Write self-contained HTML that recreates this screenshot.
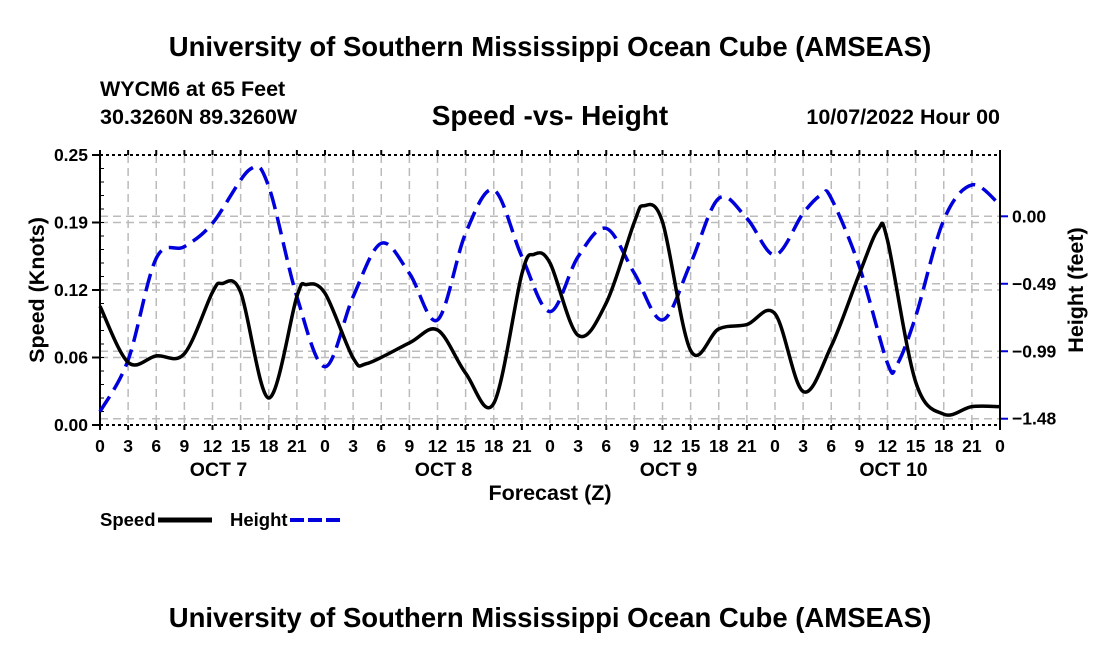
<!DOCTYPE html>
<html><head><meta charset="utf-8"><style>
body{margin:0;background:#fff;}
svg{display:block;font-family:"Liberation Sans",Arial,sans-serif;font-weight:bold;}
</style></head><body>
<svg id="chart" width="1100" height="650">
<text x="550" y="56" text-anchor="middle" font-size="27.5">University of Southern Mississippi Ocean Cube (AMSEAS)</text>
<text x="100" y="96" font-size="21.5">WYCM6 at 65 Feet</text>
<text x="100" y="124" font-size="21.5">30.3260N  89.3260W</text>
<text x="550" y="125" text-anchor="middle" font-size="28">Speed -vs- Height</text>
<text x="1000" y="124" text-anchor="end" font-size="21.5">10/07/2022 Hour 00</text>
<g id="grid"></g><g id="axes"></g><g id="series"></g>
<text x="550" y="500" text-anchor="middle" font-size="21.5">Forecast (Z)</text>
<text transform="translate(44,290) rotate(-90)" text-anchor="middle" font-size="21.5">Speed (Knots)</text>
<text transform="translate(1083,290) rotate(-90)" text-anchor="middle" font-size="21.5">Height (feet)</text>
<g>
<text x="100" y="526" font-size="18.5">Speed</text>
<line x1="158" y1="520" x2="212" y2="520" stroke="#000" stroke-width="5"/>
<text x="230" y="526" font-size="18.5">Height</text>
<line x1="290" y1="520" x2="342" y2="520" stroke="#0000dd" stroke-width="4" stroke-dasharray="14,4"/>
</g>
<text x="550" y="627" text-anchor="middle" font-size="27.5">University of Southern Mississippi Ocean Cube (AMSEAS)</text>
</svg>
<script>
const speedHours=[0,3,6,9,12,13,15,18,21,22,24,27,28.5,33,36,39,42,45,46.3,48,51,54,57,58,60,63,66,69,72,75,78,81,83,84,87,90,93,96];
const speedValues=[0.110,0.058,0.064,0.066,0.123,0.131,0.123,0.025,0.119,0.130,0.122,0.062,0.057,0.076,0.088,0.048,0.020,0.140,0.158,0.150,0.083,0.113,0.188,0.203,0.188,0.069,0.089,0.093,0.103,0.031,0.073,0.140,0.181,0.171,0.040,0.010,0.017,0.017];
const heightHours=[0,3,6,9,12,16,18,21,24,27,30,33,36,39,42,45,48,51,54,57,60,63,66,69,72,75,77,78,81,84,85,87,90,93,96];
const heightValues=[-1.425,-1.048,-0.306,-0.221,-0.051,0.343,0.216,-0.586,-1.097,-0.586,-0.197,-0.416,-0.756,-0.124,0.192,-0.294,-0.695,-0.294,-0.088,-0.416,-0.756,-0.343,0.131,-0.015,-0.282,0.022,0.160,0.131,-0.367,-1.072,-1.084,-0.732,-0.027,0.229,0.083];
const leftTicks=[0,0.0625,0.125,0.1875,0.25];
const leftTickLabels=["0.00","0.06","0.12","0.19","0.25"];
const rightTicks=[0,-0.4921,-0.9843,-1.4764];
const rightTickLabels=["0.00","\u22120.49","\u22120.99","\u22121.48"];
const dayLabels=["OCT 7","OCT 8","OCT 9","OCT 10"];
const X0=100,X1=1000,YT=155,YB=425;
const xS=h=>X0+h/96*(X1-X0);
const yL=v=>YB-v/0.25*(YB-YT);
const yR=v=>216.3-v/0.4921*67.47;
const NS="http://www.w3.org/2000/svg";
function mk(p,t,a){const e=document.createElementNS(NS,t);for(const k in a)e.setAttribute(k,a[k]);p.appendChild(e);return e;}
const grid=document.getElementById('grid'),axes=document.getElementById('axes'),ser=document.getElementById('series');
for(let h=3;h<96;h+=3){const l=mk(grid,'line',{x1:xS(h),x2:xS(h),y1:YT,y2:YB,stroke:'#bbb','stroke-width':1.5,'stroke-dasharray':'8,5'});

}
leftTicks.forEach((v,i)=>{if(i>0&&i<4){const l=mk(grid,'line',{x1:X0,x2:X1,y1:yL(v),y2:yL(v),stroke:'#bbb','stroke-width':1.5,'stroke-dasharray':'8,5'});

}
const t=mk(axes,'text',{x:X0-12,y:yL(v)+6,'text-anchor':'end','font-size':17.5});t.textContent=leftTickLabels[i];


mk(axes,'line',{x1:X0,x2:X0-8,y1:yL(v),y2:yL(v),stroke:'#000','stroke-width':2});});
rightTicks.forEach((v,i)=>{const l=mk(grid,'line',{x1:X0,x2:X1,y1:yR(v),y2:yR(v),stroke:'#bbb','stroke-width':1.5,'stroke-dasharray':'8,5'});


mk(axes,'line',{x1:X1,x2:X1+8,y1:yR(v),y2:yR(v),stroke:'#0000dd','stroke-width':2});
const t=mk(axes,'text',{x:X1+12,y:yR(v)+6,'font-size':17.5});t.textContent=rightTickLabels[i];

});
for(let v=0.0125;v<0.25;v+=0.0125)mk(axes,'line',{x1:X0,x2:X0+4,y1:yL(v),y2:yL(v),stroke:'#000','stroke-width':1});
mk(axes,'line',{x1:X0,x2:X0,y1:YT,y2:YB,stroke:'#000','stroke-width':2});
mk(axes,'line',{x1:X1,x2:X1,y1:YT,y2:YB,stroke:'#000','stroke-width':2});
mk(axes,'line',{x1:X0,x2:X1,y1:YT,y2:YT,stroke:'#000','stroke-width':2,'stroke-dasharray':'3,3'});
mk(axes,'line',{x1:X0,x2:X1,y1:YB,y2:YB,stroke:'#000','stroke-width':2,'stroke-dasharray':'3,3'});
for(let h=0;h<=96;h+=3){mk(axes,'line',{x1:xS(h),x2:xS(h),y1:YT,y2:YT-5,stroke:'#000','stroke-width':2});
mk(axes,'line',{x1:xS(h),x2:xS(h),y1:YB,y2:YB+5,stroke:'#000','stroke-width':2});
const t=mk(axes,'text',{x:xS(h),y:452,'text-anchor':'middle','font-size':17.5});t.textContent=String(h%24);

}
dayLabels.forEach((d,i)=>{const t=mk(axes,'text',{x:xS(i*24+12)+6,y:476,'text-anchor':'middle','font-size':19.5});t.textContent=d;

});
function path(hs,vs,ys){const p=hs.map((h,i)=>[xS(h),ys(vs[i])]);let d='M'+p[0][0]+','+p[0][1];
for(let i=0;i<p.length-1;i++){const a=p[Math.max(0,i-1)],b=p[i],c=p[i+1],e=p[Math.min(p.length-1,i+2)];
d+=' C'+(b[0]+(c[0]-a[0])/6)+','+(b[1]+(c[1]-a[1])/6)+' '+(c[0]-(e[0]-b[0])/6)+','+(c[1]-(e[1]-b[1])/6)+' '+c[0]+','+c[1];}return d;}
const hp=mk(ser,'path',{d:path(heightHours,heightValues,yR),fill:'none',stroke:'#0000dd','stroke-width':3.5,'stroke-dasharray':'18,8'});


const sp=mk(ser,'path',{d:path(speedHours,speedValues,yL),fill:'none',stroke:'#000','stroke-width':3.5});


</script>
</body></html>
